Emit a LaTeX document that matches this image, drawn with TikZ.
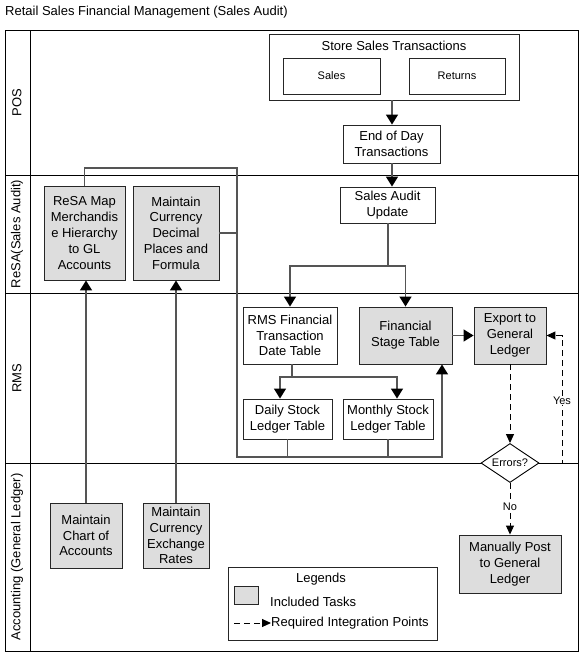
\documentclass[tikz,border=0pt]{standalone}
\usepackage{fontspec}
\setmainfont{Liberation Sans}
\usetikzlibrary{arrows.meta,shapes.geometric}
\newcommand\myfont{\fontsize{13}{15.8}\selectfont}
\newcommand\mysmall{\fontsize{11}{13}\selectfont}
\definecolor{taskgray}{RGB}{221,221,221}
\definecolor{conncol}{RGB}{85,85,85}
\tikzset{
  box/.style={draw=black!85, line width=0.9pt, fill=white, align=center, inner sep=0pt, font=\myfont},
  taskbox/.style={box, fill=taskgray},
  txt/.style={inner sep=0pt, font=\myfont, align=center},
  smalltxt/.style={inner sep=1pt, font=\mysmall, align=center},
  lane/.style={draw=black, line width=0.9pt},
  conn/.style={draw=conncol, line width=1.5pt},
  arr/.style={-{Triangle[length=10pt,width=12pt,color=black]}},
  integ/.style={draw=black, line width=1pt, dash pattern=on 6pt off 4pt, -{Triangle[length=9pt,width=8pt]}},
}
\begin{document}
\begin{tikzpicture}[x=1pt,y=-1pt]
\useasboundingbox (0,0) rectangle (582,653);
% title
\node[txt, anchor=west] (title) at (5,12) {Retail Sales Financial Management (Sales Audit)};
% swimlane frame
\draw[lane] (5,30) rectangle (578,651);
\draw[lane] (30,30) -- (30,651);
\draw[lane] (5,175) -- (578,175);
\draw[lane] (5,293) -- (578,293);
\draw[lane] (5,463) -- (578,463);
\node[txt, rotate=90] (lpos) at (17,102.5) {POS};
\node[txt, rotate=90] (lresa) at (17,234) {ReSA(Sales Audit)};
\node[txt, rotate=90] (lrms) at (17,378) {RMS};
\node[txt, rotate=90] (lacc) at (17,557) {Accounting (General Ledger)};

% POS lane
\node[box, minimum width=250, minimum height=66] (store) at (394,67) {};
\node[txt] (storelbl) at (394,46) {Store Sales Transactions};
\node[box, font=\mysmall, minimum width=97, minimum height=36] (sales) at (331.5,76) {Sales};
\node[box, font=\mysmall, minimum width=96, minimum height=36] (returns) at (457,76) {Returns};
\node[box, minimum width=97, minimum height=38] (eod) at (391.5,144) {End of Day\\Transactions};

% ReSA lane
\node[box, minimum width=95, minimum height=36] (sa) at (387.5,205) {Sales Audit\\Update};
\node[taskbox, minimum width=81, minimum height=94] (resamap) at (84.5,233) {ReSA Map\\Merchandis\\e Hierarchy\\to GL\\Accounts};
\node[taskbox, minimum width=86, minimum height=94] (decimal) at (176,233) {Maintain\\Currency\\Decimal\\Places and\\Formula};

% RMS lane
\node[box, minimum width=94, minimum height=57] (rmsfin) at (290,335.5) {RMS Financial\\Transaction\\Date Table};
\node[taskbox, minimum width=93, minimum height=57] (fst) at (405.5,335.5) {Financial\\Stage Table};
\node[taskbox, minimum width=72, minimum height=57] (export) at (510,335.5) {Export to\\General\\Ledger};
\node[box, minimum width=89, minimum height=40] (daily) at (287.5,419) {Daily Stock\\Ledger Table};
\node[box, minimum width=90, minimum height=40] (monthly) at (388,419) {Monthly Stock\\Ledger Table};

% Accounting lane
\node[diamond, draw=black, line width=0.9pt, fill=white, inner sep=0pt, aspect=1.5, minimum width=58, minimum height=39, font=\mysmall] (errors) at (510,463) {Errors?};
\node[taskbox, minimum width=72, minimum height=65] (chart) at (86,535.5) {Maintain\\Chart of\\Accounts};
\node[taskbox, minimum width=66, minimum height=65] (exch) at (176,535.5) {Maintain\\Currency\\Exchange\\Rates};
\node[taskbox, minimum width=102, minimum height=58] (manual) at (510,564) {Manually Post\\to General\\Ledger};

% legend
\node[box, minimum width=209, minimum height=73] (legend) at (332.5,603.5) {};
\node[txt] (legtitle) at (321,579) {Legends};
\node[taskbox, minimum width=24, minimum height=18] (legsample) at (246,595) {};
\node[txt, anchor=west] (legtasks) at (270,602) {Included Tasks};
\node[txt, anchor=west] (legreq) at (271,623) {Required Integration Points};
\coordinate (legstart) at (234,623);
\draw[integ] (legstart) -- (legreq.west);

% solid connectors
\draw[conn,arr] (store.south -| 392,0) -- (eod.north -| 392,0);
\draw[conn,arr] (eod.south -| 392,0) -- (sa.north -| 392,0);
\coordinate (sabus) at (388,266);
\draw[conn] (sa.south -| sabus) -- (sabus);
\draw[conn,arr] (sabus) -| (rmsfin.north);
\draw[conn,arr] (sabus) -| (fst.north);
\coordinate (rfbus) at (292,377);
\draw[conn] (rmsfin.south -| rfbus) -- (rfbus);
\draw[conn,arr] (rfbus) -| ([xshift=-7.5pt]daily.north);
\draw[conn,arr] (rfbus) -| ([xshift=9pt]monthly.north);
\coordinate (tl) at (237,168);
\coordinate (bl) at (237,457);
\coordinate (br) at (442,457);
\draw[conn,arr] (resamap.north) |- (tl) -- (bl) -- (br) -- (br |- fst.south);
\draw[conn] (decimal.east) -- (decimal.east -| tl);
\draw[conn] (daily.south) -- (daily.south |- bl);
\draw[conn] (monthly.south) -- (monthly.south |- bl);
\draw[conn,arr] (fst.east) -- (export.west);
\draw[conn,arr] (chart.north) -- (chart.north |- resamap.south);
\draw[conn,arr] (exch.north) -- (exch.north |- decimal.south);

% integration points (dashed)
\draw[integ] (export.south) -- (errors.north);
\draw[integ] (errors.south) -- node[smalltxt, fill=white, pos=0.47] (nolbl) {No} (manual.north);
\coordinate (yescorner) at (562,463);
\draw[integ] (errors.east) -- (yescorner) -- node[smalltxt, fill=white, pos=0.49] (yeslbl) {Yes} (yescorner |- export.east) -- (export.east);
\end{tikzpicture}
\end{document}
